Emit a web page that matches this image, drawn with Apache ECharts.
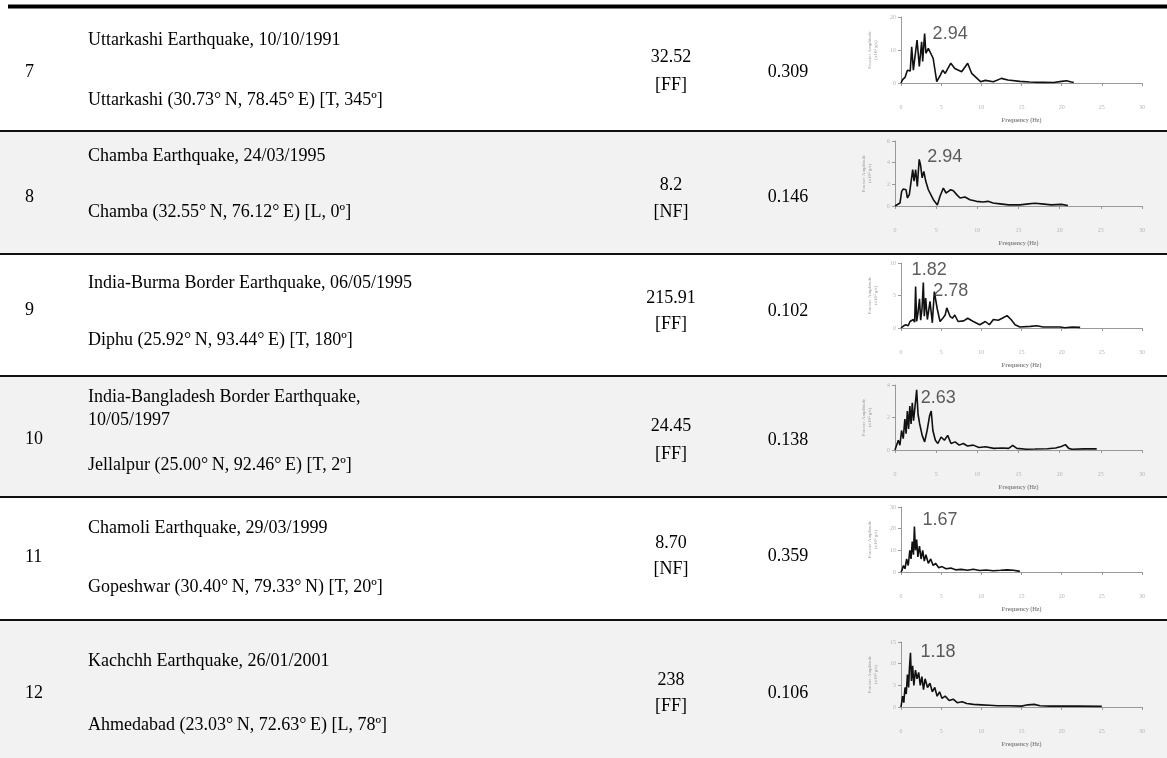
<!DOCTYPE html>
<html>
<head>
<meta charset="utf-8">
<script src="https://cdn.jsdelivr.net/npm/echarts@6/dist/echarts.min.js"></script>
<style>
html, body { margin: 0; padding: 0; background: #ffffff; }
#chart { width: 1167px; height: 758px; }
</style>
</head>
<body>
<div id="chart"></div>
<script>
// ---- Table text ----
const rowNumbers = ['7', '8', '9', '10', '11', '12'];
const eventNames = [
  ['Uttarkashi Earthquake, 10/10/1991'],
  ['Chamba Earthquake, 24/03/1995'],
  ['India-Burma Border Earthquake, 06/05/1995'],
  ['India-Bangladesh Border Earthquake,', '10/05/1997'],
  ['Chamoli Earthquake, 29/03/1999'],
  ['Kachchh Earthquake, 26/01/2001']
];
const stations = [
  'Uttarkashi (30.73\u00B0\u2009N, 78.45\u00B0\u2009E) [T, 345\u00BA]',
  'Chamba (32.55\u00B0\u2009N, 76.12\u00B0\u2009E) [L, 0\u00BA]',
  'Diphu (25.92\u00B0\u2009N, 93.44\u00B0\u2009E) [T, 180\u00BA]',
  'Jellalpur (25.00\u00B0\u2009N, 92.46\u00B0\u2009E) [T, 2\u00BA]',
  'Gopeshwar (30.40\u00B0\u2009N, 79.33\u00B0\u2009N) [T, 20\u00BA]',
  'Ahmedabad (23.03\u00B0\u2009N, 72.63\u00B0\u2009E) [L, 78\u00BA]'
];
const distances = ['32.52', '8.2', '215.91', '24.45', '8.70', '238'];
const faultZones = ['[FF]', '[NF]', '[FF]', '[FF]', '[NF]', '[FF]'];
const pgaValues = ['0.309', '0.146', '0.102', '0.138', '0.359', '0.106'];

// ---- Spectrum axes ----
const freqTicks = [0, 5, 10, 15, 20, 25, 30];
const ampMax = [20, 6, 10, 4, 30, 15];
const ampStep = [10, 2, 5, 2, 10, 5];

// ---- Fourier amplitude spectra (frequency in Hz, amplitude) ----
const freq7 = [0, 0.2, 0.35, 0.5, 0.65, 0.8, 1.0, 1.15, 1.33, 1.54, 1.74, 2.0, 2.28, 2.57, 2.7, 2.94, 3.1, 3.4, 3.6, 4.0, 4.45, 4.9, 5.2, 5.5, 6.2, 6.7, 7.55, 8.3, 8.8, 9.9, 10.5, 11.5, 12.5, 13.3, 14.8, 16.0, 17.3, 17.7, 19.0, 20.0, 20.6, 21.2, 21.5];
const amp7 = [0, 1.0, 0.5, 1.7, 1.2, 3.9, 3.4, 3.6, 11, 3.9, 8, 13, 5, 12.5, 6.5, 15, 9, 10.5, 10, 7.5, 0.4, 2.4, 3.9, 2.9, 6, 4.4, 3.4, 6, 2.9, 0.4, 0.8, 0.4, 1.4, 0.9, 0.5, 0.3, 0.2, 0.2, 0.15, 0.5, 0.7, 0.3, 0.2];

const freq8 = [0, 0.2, 0.61, 0.81, 1.01, 1.34, 1.5, 1.74, 1.9, 2.15, 2.31, 2.51, 2.71, 2.94, 3.1, 3.3, 3.5, 3.73, 4.05, 4.66, 5.14, 5.47, 5.87, 6.2, 6.48, 6.76, 7.09, 7.49, 7.9, 8.5, 9.1, 9.9, 10.7, 11.3, 11.9, 12.76, 13.8, 15.2, 16.2, 17.0, 17.8, 19.0, 20.2, 21.0];
const amp8 = [0, 0, 0.28, 1.35, 1.57, 1.5, 0.74, 1.05, 0.9, 3.35, 2.3, 3.35, 1.8, 4.3, 3.8, 2.6, 3.2, 2.3, 1.5, 0.58, 0.1, 0.9, 1.66, 1.2, 1.35, 1.5, 1.4, 1.05, 0.74, 0.83, 0.58, 0.43, 0.37, 0.43, 0.28, 0.2, 0.1, 0.1, 0.2, 0.25, 0.2, 0.1, 0.15, 0.05];

const freq9 = [0, 0.3, 0.6, 0.9, 1.12, 1.33, 1.54, 1.7, 1.82, 1.95, 2.1, 2.3, 2.45, 2.62, 2.78, 2.9, 3.07, 3.28, 3.61, 3.9, 4.15, 4.5, 4.86, 5.2, 5.5, 5.7, 6.1, 6.4, 6.7, 7.1, 7.8, 8.3, 9.0, 9.8, 10.5, 11.0, 11.5, 12.1, 12.6, 13.2, 13.7, 14.2, 14.8, 16.1, 16.9, 17.7, 19.8, 20.4, 21.3, 22.3];
const amp9 = [0, 0.3, 0.5, 0.35, 1.0, 0.8, 1.3, 0.9, 6.4, 1.0, 2.2, 4.5, 1.2, 3.0, 7.0, 1.8, 4.6, 1.3, 4.1, 0.8, 5.6, 3.0, 1.0, 1.5, 2.0, 3.1, 1.8, 1.5, 2.0, 1.0, 1.1, 1.5, 1.0, 0.5, 1.0, 0.5, 1.3, 1.2, 1.5, 1.9, 1.3, 0.5, 0.15, 0.25, 0.35, 0.15, 0.15, 0.05, 0.15, 0.1];

const freq10 = [0, 0.2, 0.4, 0.6, 0.8, 1.0, 1.2, 1.35, 1.5, 1.65, 1.8, 1.95, 2.1, 2.25, 2.4, 2.63, 2.8, 3.0, 3.3, 3.6, 3.9, 4.2, 4.4, 4.6, 4.9, 5.2, 5.6, 6.0, 6.4, 6.8, 7.3, 7.8, 8.3, 8.8, 9.5, 10.2, 11, 12, 13, 13.8, 14.3, 14.8, 16, 17, 18.5, 19.5, 20.2, 20.7, 21.1, 21.5, 23, 24.5];
const amp10 = [0, 0.1, 0.6, 0.3, 1.2, 0.7, 1.9, 1.0, 2.4, 1.3, 2.7, 1.6, 2.9, 1.8, 2.5, 3.7, 2.2, 1.6, 0.9, 0.5, 1.2, 2.1, 2.4, 1.2, 0.6, 0.4, 0.8, 0.6, 0.9, 0.4, 0.5, 0.3, 0.4, 0.25, 0.3, 0.15, 0.2, 0.1, 0.12, 0.1, 0.28, 0.1, 0.05, 0.06, 0.08, 0.12, 0.22, 0.33, 0.1, 0.05, 0.07, 0.07];

const freq11 = [0, 0.15, 0.3, 0.5, 0.7, 0.9, 1.1, 1.25, 1.4, 1.55, 1.67, 1.8, 1.95, 2.1, 2.3, 2.5, 2.7, 2.9, 3.1, 3.4, 3.7, 4.0, 4.3, 4.7, 5.1, 5.6, 6.2, 6.8, 7.5, 8.3, 9.0, 9.8, 10.6, 11.5, 12.4, 13.2, 14.0, 14.8];
const amp11 = [0, 1, 3, 1.5, 6, 3, 10, 6, 14, 8, 21, 10, 15, 7, 12, 6, 10, 5, 8, 4, 6, 3, 4, 2, 2.5, 1.5, 1.8, 1, 1.2, 0.8, 1.3, 0.7, 0.9, 0.6, 0.8, 1.0, 0.8, 0.3];

const freq12 = [0, 0.2, 0.35, 0.5, 0.65, 0.8, 0.95, 1.05, 1.18, 1.3, 1.45, 1.6, 1.8, 2.0, 2.2, 2.4, 2.6, 2.8, 3.0, 3.3, 3.6, 3.9, 4.2, 4.5, 4.8, 5.1, 5.5, 6.0, 6.5, 7.0, 7.6, 8.2, 9.0, 10.0, 11.0, 12.0, 13.5, 15.0, 15.8, 16.6, 17.3, 18.5, 20.0, 22.0, 25.0];
const amp12 = [0, 2.5, 1.0, 4.5, 3.0, 7.5, 4.5, 9, 12.5, 6, 9.5, 5, 8.5, 6.5, 8, 5, 7, 4, 6.5, 4.5, 5.5, 3.5, 4.5, 2.5, 3.5, 2.0, 2.5, 1.5, 1.8, 1.0, 1.2, 0.8, 0.6, 0.5, 0.4, 0.3, 0.3, 0.2, 0.5, 0.6, 0.3, 0.2, 0.2, 0.2, 0.15];

// Predominant frequencies annotated on each spectrum
const peakFreqs = [[2.94], [2.94], [1.82, 2.78], [2.63], [1.67], [1.18]];

const spectra = [
  [freq7, amp7], [freq8, amp8], [freq9, amp9],
  [freq10, amp10], [freq11, amp11], [freq12, amp12]
];

// ---- Layout ----
const W = 1167, H = 758;
const rowTop = [8.5, 132, 255, 377, 498, 621];
const rowBottom = [130, 253, 375, 496, 619, 758];
const rowRules = [131, 254, 376, 497, 620];
const titleY = [[40], [156], [283], [397, 420], [528], [661]];
const stationY = [100, 212, 340, 465, 587, 725];
const numY = [72, 197, 310, 439, 557, 693];
const pgaY = [72, 197, 311, 440, 556, 693];
const distY = [[57, 85], [185, 212], [298, 324], [426, 454], [543, 569], [680, 706]];
const plotBox = [
  { left: 901, top: 17, width: 241, height: 66 },
  { left: 895, top: 141, width: 247, height: 65 },
  { left: 901, top: 263, width: 241, height: 65 },
  { left: 895, top: 385, width: 247, height: 65 },
  { left: 901, top: 507, width: 241, height: 65 },
  { left: 901, top: 642, width: 241, height: 65 }
];
// label offsets (px) relative to the peak point
const peakLabelOffset = [
  [[8, 1]], [[8, -2]], [[-4, -16], [10, 9]], [[4, 8]], [[8, -6]], [[10, -1]]
];

const SERIF = '"Liberation Serif", "Times New Roman", serif';
const TXT = 18;

const graphics = [];
// row shading
rowTop.forEach((t, i) => {
  if (i % 2 === 1) {
    graphics.push({ type: 'rect', z: -10, silent: true,
      shape: { x: 0, y: t - 1, width: W, height: rowBottom[i] - t + 2 },
      style: { fill: '#f2f2f2' } });
  }
});
// top rule and row separators
graphics.push({ type: 'rect', z: 5, silent: true, shape: { x: 8, y: 4.5, width: W - 8, height: 4 }, style: { fill: '#000' } });
rowRules.forEach(y => {
  graphics.push({ type: 'rect', z: 5, silent: true, shape: { x: 0, y: y - 1, width: W, height: 2 }, style: { fill: '#111' } });
});

function textEl(str, x, y, align) {
  return { type: 'text', z: 6, silent: true, x: x, y: y,
    style: { text: str, font: TXT + 'px ' + SERIF, fill: '#000',
      textAlign: align, textVerticalAlign: 'middle', align: align, verticalAlign: 'middle' } };
}

rowNumbers.forEach((num, i) => {
  graphics.push(textEl(num, 25, numY[i], 'left'));
  eventNames[i].forEach((line, k) => graphics.push(textEl(line, 88, titleY[i][k], 'left')));
  graphics.push(textEl(stations[i], 88, stationY[i], 'left'));
  graphics.push(textEl(distances[i], 671, distY[i][0], 'center'));
  graphics.push(textEl(faultZones[i], 671, distY[i][1], 'center'));
  graphics.push(textEl(pgaValues[i], 788, pgaY[i], 'center'));
});

const grids = [], xAxes = [], yAxes = [], series = [];
const tickFont = { fontFamily: SERIF, fontSize: 6, color: '#b5b5b5' };

spectra.forEach(([f, a], i) => {
  grids.push(Object.assign({ containLabel: false }, plotBox[i]));
  xAxes.push({
    type: 'value', gridIndex: i, min: freqTicks[0], max: freqTicks[freqTicks.length - 1], interval: 5,
    name: 'Frequency (Hz)', nameLocation: 'middle', nameGap: 34,
    nameTextStyle: { fontFamily: SERIF, fontSize: 6, color: '#888', fontWeight: 'bold' },
    axisLine: { lineStyle: { color: '#999', width: 1 } },
    axisTick: { show: true, inside: false, length: 3, lineStyle: { color: '#999' } },
    axisLabel: Object.assign({ margin: 21 }, tickFont),
    splitLine: { show: false }
  });
  yAxes.push({
    type: 'value', gridIndex: i, min: 0, max: ampMax[i], interval: ampStep[i],
    name: 'Fourier Amplitude\n(x10\u00B3 g/s)', nameLocation: 'middle', nameGap: 22, nameRotate: 90,
    nameTextStyle: { fontFamily: SERIF, fontSize: 5, color: '#999', lineHeight: 6 },
    axisLine: { show: true, lineStyle: { color: '#999', width: 1 } },
    axisTick: { show: true, length: 3, lineStyle: { color: '#999' } },
    axisLabel: Object.assign({ margin: 5 }, tickFont),
    splitLine: { show: false }
  });
  series.push({
    type: 'line', xAxisIndex: i, yAxisIndex: i, symbol: 'none', silent: true,
    lineStyle: { color: '#111', width: 1.6 },
    data: f.map((v, k) => [v, a[k]])
  });
  // peak annotations taken from the spectrum itself
  const peaks = peakFreqs[i].map((pf, k) => {
    const idx = f.indexOf(pf);
    return {
      value: [f[idx], a[idx]],
      label: { offset: peakLabelOffset[i][k] }
    };
  });
  series.push({
    type: 'scatter', xAxisIndex: i, yAxisIndex: i, symbolSize: 0, silent: true, z: 4,
    data: peaks,
    label: {
      show: true, position: 'right', distance: 0, align: 'left', verticalAlign: 'middle',
      fontFamily: '"Liberation Sans", Arial, sans-serif', fontSize: 18, color: '#333',
      formatter: p => p.value[0].toFixed(2)
    }
  });
});

const chart = echarts.init(document.getElementById('chart'), null, { renderer: 'canvas' });
chart.setOption({
  backgroundColor: '#ffffff',
  animation: false,
  graphic: { elements: graphics },
  grid: grids,
  xAxis: xAxes,
  yAxis: yAxes,
  series: series
});
</script>
</body>
</html>
